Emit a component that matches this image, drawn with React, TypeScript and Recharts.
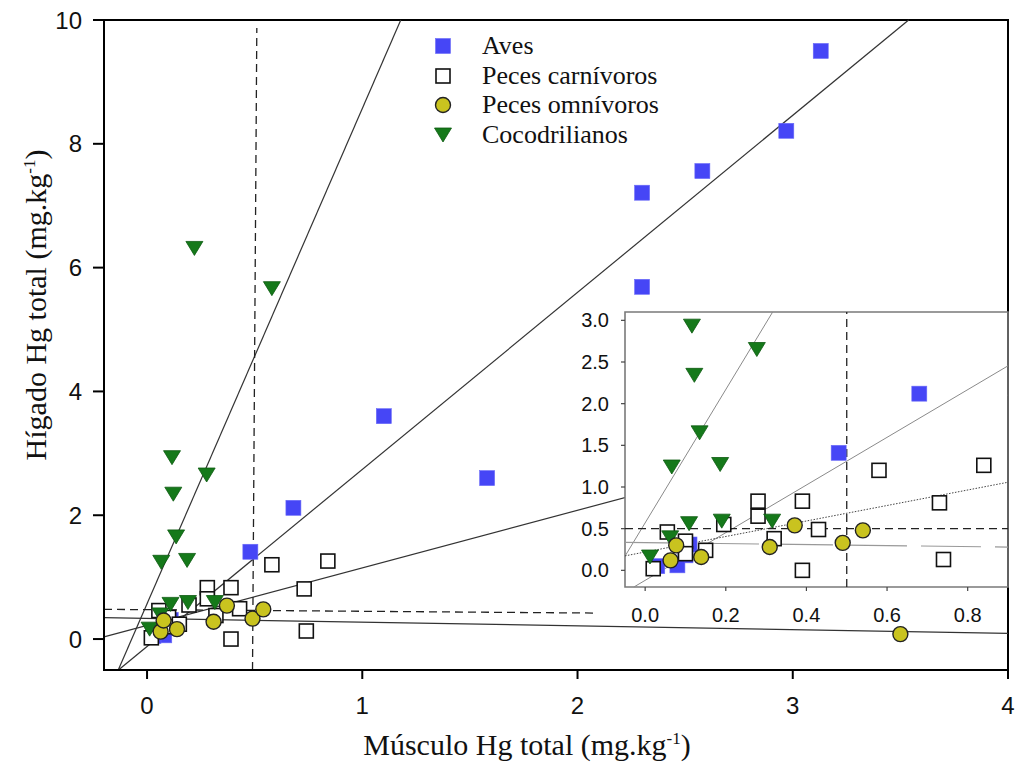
import {
  ScatterChart,
  Scatter,
  XAxis,
  YAxis,
  ReferenceLine,
  ReferenceArea,
} from "recharts";

// --- data (Hg total, mg/kg) ---
const aves = [
  { x: 3.13, y: 9.5 }, { x: 2.97, y: 8.21 }, { x: 2.58, y: 7.56 }, { x: 2.3, y: 7.21 },
  { x: 2.3, y: 5.69 }, { x: 1.1, y: 3.6 }, { x: 1.58, y: 2.6 }, { x: 0.68, y: 2.12 },
  { x: 0.48, y: 1.41 }, { x: 0.11, y: 0.31 }, { x: 0.1, y: 0.18 }, { x: 0.08, y: 0.06 },
  { x: 0.03, y: 0.05 },
];

const pecesCarnivoros = [
  { x: 0.02, y: 0.02 }, { x: 0.055, y: 0.46 }, { x: 0.1, y: 0.35 }, { x: 0.1, y: 0.2 },
  { x: 0.15, y: 0.24 }, { x: 0.195, y: 0.55 }, { x: 0.28, y: 0.83 }, { x: 0.28, y: 0.65 },
  { x: 0.39, y: 0.83 }, { x: 0.39, y: 0.0 }, { x: 0.32, y: 0.38 }, { x: 0.43, y: 0.49 },
  { x: 0.58, y: 1.2 }, { x: 0.73, y: 0.81 }, { x: 0.74, y: 0.13 }, { x: 0.84, y: 1.26 },
];

const pecesOmnivoros = [
  { x: 0.063, y: 0.12 }, { x: 0.077, y: 0.3 }, { x: 0.139, y: 0.16 }, { x: 0.309, y: 0.28 },
  { x: 0.371, y: 0.54 }, { x: 0.49, y: 0.33 }, { x: 0.54, y: 0.48 }, { x: 3.5, y: 0.08 },
];

const cocodrilianos = [
  { x: 0.22, y: 6.31 }, { x: 0.58, y: 5.66 }, { x: 0.116, y: 2.93 }, { x: 0.277, y: 2.65 },
  { x: 0.122, y: 2.34 }, { x: 0.135, y: 1.65 }, { x: 0.066, y: 1.24 }, { x: 0.186, y: 1.27 },
  { x: 0.109, y: 0.56 }, { x: 0.19, y: 0.59 }, { x: 0.315, y: 0.59 }, { x: 0.062, y: 0.39 },
  { x: 0.012, y: 0.16 },
];

// regression lines y = intercept + slope * x
const fits = [
  { key: "cocodrilianos", intercept: 0.57, slope: 8.0 },
  { key: "aves", intercept: -0.12, slope: 2.86 },
  { key: "carnivoros", intercept: 0.22, slope: 0.93 },
  { key: "omnivoros", intercept: 0.333, slope: -0.06 },
];

// 0.5 mg/kg guide lines as they sit in the main panel
const mainCutH = [{ x: -0.2, y: 0.48 }, { x: 2.08, y: 0.42 }];
const mainCutV = [{ x: 0.49, y: -0.5 }, { x: 0.51, y: 9.87 }];
const cutoff = 0.5;

const mainXTicks = [0, 1, 2, 3, 4];
const mainYTicks = [0, 2, 4, 6, 8, 10];
const insetXTicks = [0, 0.2, 0.4, 0.6, 0.8];
const insetYTicks = [0, 0.5, 1, 1.5, 2, 2.5, 3];

const MAIN_X: [number, number] = [-0.2, 4];
const MAIN_Y: [number, number] = [-0.5, 10];
const INSET_X: [number, number] = [-0.05, 0.9];
const INSET_Y: [number, number] = [-0.2, 3.1];

const BLUE = "#4646f6";
const YELLOW = "#c9c31f";
const GREEN = "#15791a";
const SANS = "'Liberation Sans', Arial, sans-serif";
const SERIF = "'Liberation Serif', 'Times New Roman', serif";

// --- marker shapes ---
const BlueSquare = ({ cx, cy }: any) => (
  <rect x={cx - 7.5} y={cy - 7.5} width={15} height={15} fill={BLUE} stroke="#6a6af8" strokeWidth={0.6} />
);
const OpenSquare = ({ cx, cy }: any) => (
  <rect x={cx - 7} y={cy - 7} width={14} height={14} fill="#fff" stroke="#111" strokeWidth={1.6} />
);
const YellowCircle = ({ cx, cy }: any) => (
  <circle cx={cx} cy={cy} r={7.5} fill={YELLOW} stroke="#222" strokeWidth={1.4} />
);
const GreenTriangle = ({ cx, cy }: any) => (
  <path
    d={`M${cx - 8.5},${cy - 7}L${cx + 8.5},${cy - 7}L${cx},${cy + 7}Z`}
    fill={GREEN}
    stroke="#0d5a10"
    strokeWidth={0.8}
  />
);

const legendRows = [
  { name: "Aves", Shape: BlueSquare, y: 46 },
  { name: "Peces carnívoros", Shape: OpenSquare, y: 76 },
  { name: "Peces omnívoros", Shape: YellowCircle, y: 105 },
  { name: "Cocodrilianos", Shape: GreenTriangle, y: 135 },
];

// clip a fitted line to a plotting box
function clipFit(fit: { intercept: number; slope: number }, xd: [number, number], yd: [number, number]) {
  let xa = xd[0];
  let xb = xd[1];
  if (fit.slope !== 0) {
    const p = (yd[0] - fit.intercept) / fit.slope;
    const q = (yd[1] - fit.intercept) / fit.slope;
    xa = Math.max(xa, Math.min(p, q));
    xb = Math.min(xb, Math.max(p, q));
  }
  return [
    { x: xa, y: fit.intercept + fit.slope * xa },
    { x: xb, y: fit.intercept + fit.slope * xb },
  ];
}

const inBox = (xd: [number, number], yd: [number, number]) => (d: { x: number; y: number }) =>
  d.x >= xd[0] && d.x <= xd[1] && d.y >= yd[0] && d.y <= yd[1];

const insetFitStyle: Record<string, any> = {
  cocodrilianos: { stroke: "#8a8a8a", strokeWidth: 1 },
  aves: { stroke: "#8a8a8a", strokeWidth: 1 },
  carnivoros: { stroke: "#444", strokeWidth: 1, strokeDasharray: "1.5 1.5" },
  omnivoros: { stroke: "#999", strokeWidth: 1.2, strokeDasharray: "60 14" },
};

function MainChart() {
  return (
    <ScatterChart width={1019} height={770} margin={{ top: 20, right: 11, bottom: 0, left: 0 }}>
      <XAxis
        type="number"
        dataKey="x"
        domain={MAIN_X}
        ticks={mainXTicks}
        allowDataOverflow
        height={100}
        tickSize={9}
        tickMargin={18}
        axisLine={{ stroke: "#000", strokeWidth: 2 }}
        tickLine={{ stroke: "#000", strokeWidth: 2 }}
        tick={{ fontSize: 24, fill: "#111", fontFamily: SANS }}
      />
      <YAxis
        type="number"
        dataKey="y"
        domain={MAIN_Y}
        ticks={mainYTicks}
        allowDataOverflow
        width={104}
        tickSize={11}
        tickMargin={11}
        axisLine={{ stroke: "#000", strokeWidth: 2 }}
        tickLine={{ stroke: "#000", strokeWidth: 2 }}
        tick={{ fontSize: 24, fill: "#111", fontFamily: SANS }}
      />
      <ReferenceArea
        x1={MAIN_X[0]} x2={MAIN_X[1]} y1={MAIN_Y[0]} y2={MAIN_Y[1]}
        fill="none" stroke="#000" strokeWidth={2} ifOverflow="visible"
      />
      {fits.map((f) => (
        <ReferenceLine
          key={f.key}
          segment={clipFit(f, MAIN_X, MAIN_Y)}
          stroke="#333"
          strokeWidth={1.2}
          ifOverflow="visible"
        />
      ))}
      <ReferenceLine segment={mainCutH} stroke="#222" strokeWidth={1.3} strokeDasharray="8 5" ifOverflow="visible" />
      <ReferenceLine segment={mainCutV} stroke="#222" strokeWidth={1.3} strokeDasharray="8 5" ifOverflow="visible" />
      <Scatter data={aves} shape={BlueSquare} isAnimationActive={false} />
      <Scatter data={pecesCarnivoros} shape={OpenSquare} isAnimationActive={false} />
      <Scatter data={cocodrilianos} shape={GreenTriangle} isAnimationActive={false} />
      <Scatter data={pecesOmnivoros} shape={YellowCircle} isAnimationActive={false} />
    </ScatterChart>
  );
}

function InsetChart() {
  const keep = inBox(INSET_X, INSET_Y);
  return (
    <ScatterChart width={460} height={335} margin={{ top: 12, right: 12, bottom: 0, left: 0 }}>
      <XAxis
        type="number"
        dataKey="x"
        domain={INSET_X}
        ticks={insetXTicks}
        allowDataOverflow
        height={48}
        tickSize={4}
        tickMargin={17}
        axisLine={false}
        tickLine={{ stroke: "#444", strokeWidth: 1.2 }}
        tick={{ fontSize: 20, fill: "#111", fontFamily: SANS }}
        tickFormatter={(v: number) => v.toFixed(1)}
      />
      <YAxis
        type="number"
        dataKey="y"
        domain={INSET_Y}
        ticks={insetYTicks}
        allowDataOverflow
        width={65}
        tickSize={4}
        tickMargin={12}
        axisLine={false}
        tickLine={{ stroke: "#444", strokeWidth: 1.2 }}
        tick={{ fontSize: 20, fill: "#111", fontFamily: SANS }}
        tickFormatter={(v: number) => v.toFixed(1)}
      />
      <ReferenceArea
        x1={INSET_X[0]} x2={INSET_X[1]} y1={INSET_Y[0]} y2={INSET_Y[1]}
        fill="none" stroke="#7a7a7a" strokeWidth={1.6} ifOverflow="visible"
      />
      {fits.map((f) => (
        <ReferenceLine
          key={f.key}
          segment={clipFit(f, INSET_X, INSET_Y)}
          ifOverflow="visible"
          {...insetFitStyle[f.key]}
        />
      ))}
      <ReferenceLine y={cutoff} stroke="#222" strokeWidth={1.3} strokeDasharray="8 5" />
      <ReferenceLine x={cutoff} stroke="#222" strokeWidth={1.3} strokeDasharray="8 5" />
      <Scatter data={aves.filter(keep)} shape={BlueSquare} isAnimationActive={false} />
      <Scatter data={pecesCarnivoros.filter(keep)} shape={OpenSquare} isAnimationActive={false} />
      <Scatter data={cocodrilianos.filter(keep)} shape={GreenTriangle} isAnimationActive={false} />
      <Scatter data={pecesOmnivoros.filter(keep)} shape={YellowCircle} isAnimationActive={false} />
    </ScatterChart>
  );
}

export default function App() {
  return (
    <div style={{ position: "absolute", left: 0, top: 0, width: 1019, height: 770, background: "#fff", overflow: "hidden" }}>
      <MainChart />

      {/* inset: white plot box, chart above it */}
      <div style={{ position: "absolute", left: 625, top: 312, width: 382, height: 275, background: "#fff" }} />
      <div style={{ position: "absolute", left: 560, top: 300 }}>
        <InsetChart />
      </div>

      {/* legend */}
      {legendRows.map((r) => (
        <div key={r.name} style={{ position: "absolute", left: 430, top: r.y - 16, height: 32, display: "flex", alignItems: "center" }}>
          <svg width={26} height={32} style={{ display: "block" }}>
            <r.Shape cx={13} cy={16} />
          </svg>
          <span style={{ marginLeft: 26, fontFamily: SERIF, fontSize: 26, color: "#111", whiteSpace: "nowrap" }}>{r.name}</span>
        </div>
      ))}

      {/* axis titles */}
      <div
        style={{
          position: "absolute", left: 277, top: 728, width: 500, textAlign: "center",
          fontFamily: SERIF, fontSize: 30, color: "#111", lineHeight: "34px", whiteSpace: "nowrap",
        }}
      >
        Músculo Hg total (mg.kg<sup style={{ fontSize: 17, verticalAlign: "super", lineHeight: 0 }}>-1</sup>)
      </div>
      <div
        style={{
          position: "absolute", left: 36 - 250, top: 305 - 17, width: 500, textAlign: "center",
          fontFamily: SERIF, fontSize: 30, color: "#111", lineHeight: "34px", whiteSpace: "nowrap",
          transform: "rotate(-90deg)", transformOrigin: "50% 50%",
        }}
      >
        Hígado Hg total (mg.kg<sup style={{ fontSize: 17, verticalAlign: "super", lineHeight: 0 }}>-1</sup>)
      </div>
    </div>
  );
}
